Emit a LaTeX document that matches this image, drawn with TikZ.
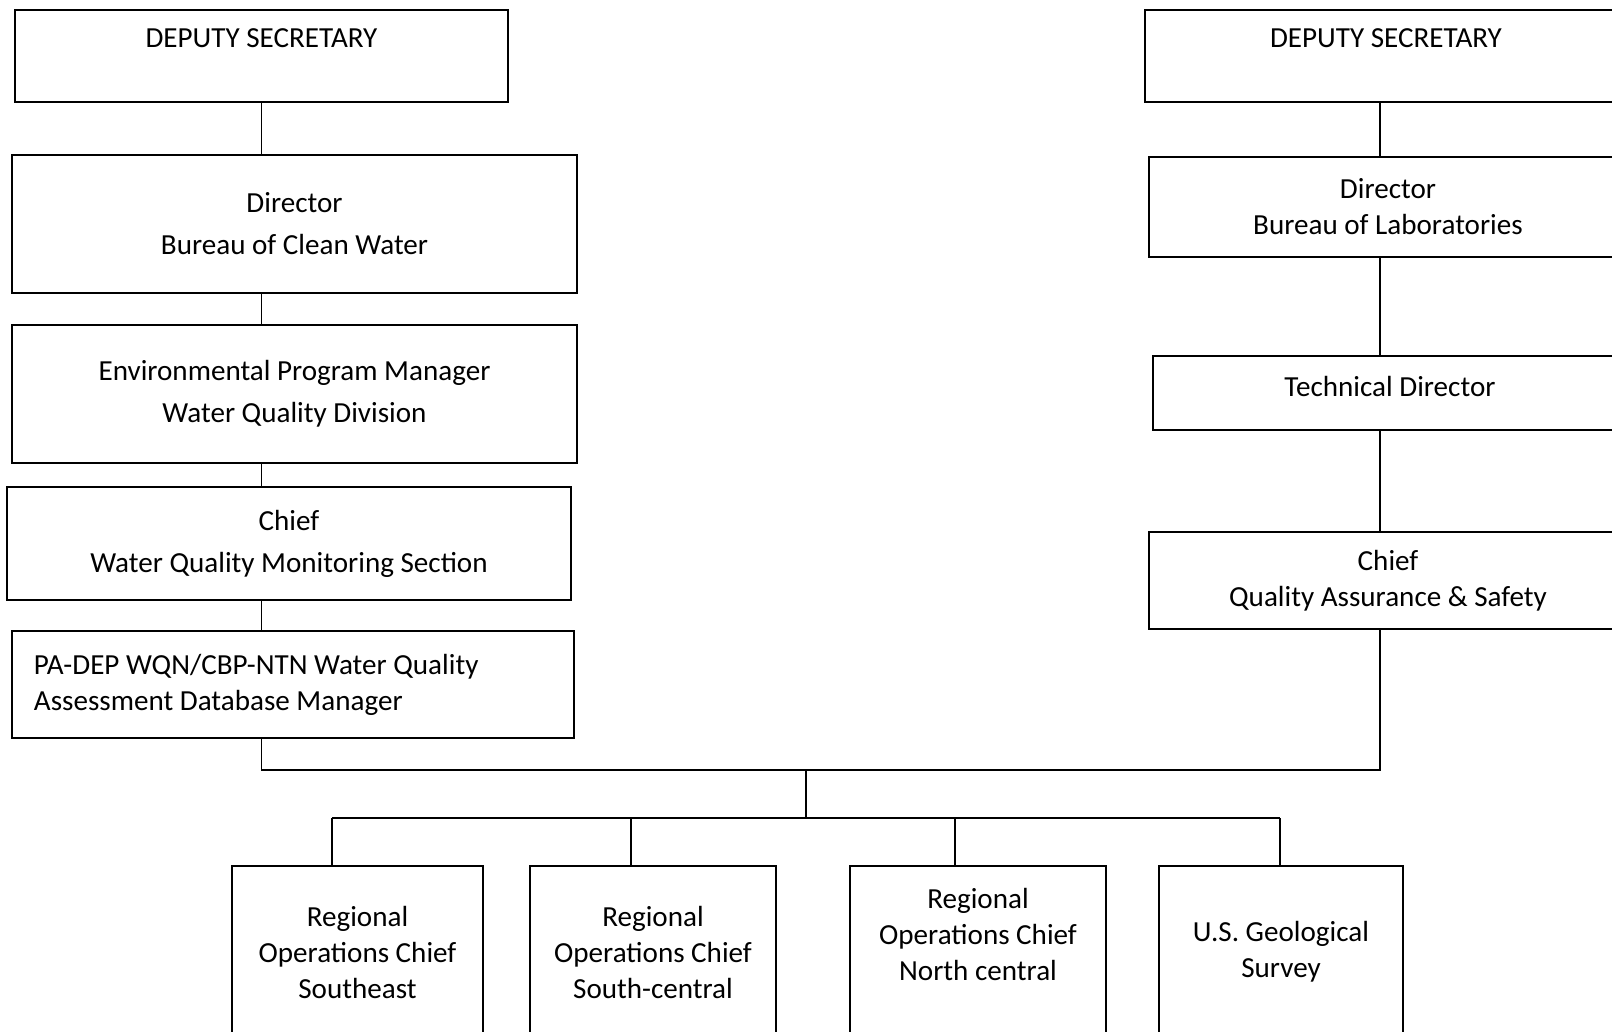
\documentclass[tikz,border=0pt]{standalone}
\usepackage{fontspec}
\newfontfamily\orgfont{Carlito}
\usepackage{tikz}
\usetikzlibrary{positioning, calc}

\tikzset{
	box/.style={draw, line width=1.3pt, align=center, inner sep=0pt, font=\orgfont\fontsize{20.7}{25.6}\selectfont},
	widebox/.style={box, font=\orgfont\fontsize{20.7}{29.9}\selectfont},
	link/.style={line width=1.1pt}
}

\begin{document}
\begin{tikzpicture}[x=0.025cm, y=-0.025cm]
			\useasboundingbox (0,0) rectangle (1612,1032);
			\clip (0,0) rectangle (1612,1032);
			% left column
			\node[box, minimum width=12.325cm, minimum height=2.3cm] (ds1) at (261.5,56) {DEPUTY SECRETARY\\ \mbox{}};
			\node[widebox, minimum width=14.125cm, minimum height=3.45cm] (dirbcw) at (294.5,224) {Director\\ Bureau of Clean Water};
			\node[widebox, minimum width=14.125cm, minimum height=3.45cm] (epm) at (294.5,394) {Environmental Program Manager\\ Water Quality Division};
			\node[widebox, minimum width=14.1cm, minimum height=2.825cm] (chiefwqms) at (289,543.5) {Chief\\ Water Quality Monitoring Section};
			\node[box, align=flush left, text width=12.95cm, inner xsep=0.55cm, minimum height=2.675cm] (dbm) at (293,684.5) {PA-DEP WQN/CBP-NTN Water Quality\\ Assessment Database Manager};
			% right column
			\node[box, minimum width=12.05cm, minimum height=2.3cm] (ds2) at (1386,56) {DEPUTY SECRETARY\\ \mbox{}};
			\node[box, minimum width=11.95cm, minimum height=2.5cm] (dirbl) at (1388,207) {Director\\ Bureau of Laboratories};
			\node[box, minimum width=11.85cm, minimum height=1.85cm, text depth=0.35cm] (techdir) at (1390,393) {Technical Director};
			\node[box, minimum width=11.95cm, minimum height=2.425cm] (chiefqas) at (1388,580.5) {Chief\\ Quality Assurance \& Safety};
			% regional level
			\node[box, minimum width=6.275cm, minimum height=4.3cm] (rse) at (357.5,952) {Regional\\ Operations Chief\\ Southeast};
			\node[box, minimum width=6.15cm, minimum height=4.3cm] (rsc) at (653,952) {Regional\\ Operations Chief\\ South-central};
			\node[box, minimum width=6.4cm, minimum height=4.3cm] (rnc) at (978,952) {Regional\\ Operations Chief\\ North central\\ \mbox{}};
			\node[box, minimum width=6.1cm, minimum height=4.3cm] (usgs) at (1281,952) {U.S. Geological\\ Survey};

			\coordinate (join) at (1380,770);
			\coordinate (mid) at (806,770);
			\coordinate (d1) at (332,818);
			\coordinate (d2) at (631,818);
			\coordinate (d3) at (955,818);
			\coordinate (d4) at (1280,818);

			\draw[link] (ds1.south) -- (ds1.south |- dirbcw.north);
			\draw[link] (dirbcw.south -| ds1.south) -- (epm.north -| ds1.south);
			\draw[link] (epm.south -| ds1.south) -- (chiefwqms.north -| ds1.south);
			\draw[link] (chiefwqms.south -| ds1.south) -- (dbm.north -| ds1.south);
			\draw[link] (dbm.south -| ds1.south) |- (join) -- (chiefqas.south -| join);
			\draw[link] (ds2.south -| join) -- (dirbl.north -| join);
			\draw[link] (dirbl.south -| join) -- (techdir.north -| join);
			\draw[link] (techdir.south -| join) -- (chiefqas.north -| join);
			\draw[link] (mid) -- (mid |- d1);
			\draw[link] (d1) -- (d4);
			\draw[link] (d1) -- (d1 |- rse.north);
			\draw[link] (d2) -- (d2 |- rsc.north);
			\draw[link] (d3) -- (d3 |- rnc.north);
			\draw[link] (d4) -- (d4 |- usgs.north);
		\end{tikzpicture}
\end{document}
